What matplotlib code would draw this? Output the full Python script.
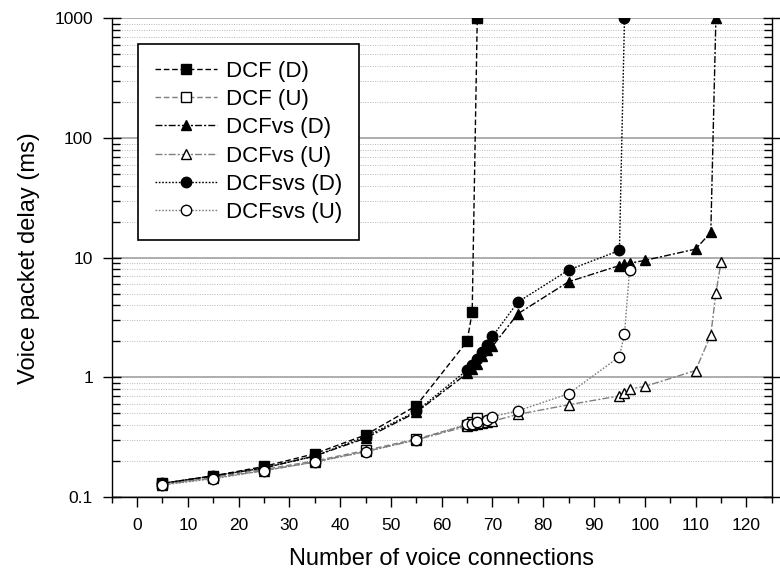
import numpy as np
import matplotlib
matplotlib.use("Agg")
import matplotlib.pyplot as plt
from matplotlib.ticker import LogLocator, NullFormatter, MultipleLocator, FixedLocator, FixedFormatter

plt.rcParams['font.family'] = ['Liberation Sans', 'DejaVu Sans']

# Data
low_x = [5, 15, 25, 35, 45, 55]

dcf_d_x = low_x + [65, 66, 67]
dcf_d_y = [0.13, 0.15, 0.18, 0.23, 0.33, 0.58, 2.0, 3.5, 1000]

dcf_u_x = low_x + [65, 66, 67]
dcf_u_y = [0.128, 0.146, 0.17, 0.2, 0.245, 0.305, 0.40, 0.427, 0.456]

dcfvs_d_x = low_x + [65, 66, 67, 68, 69, 70, 75, 85, 95, 96, 97, 100, 110, 113, 114]
dcfvs_d_y = [0.13, 0.15, 0.175, 0.22, 0.31, 0.51, 1.08, 1.18, 1.3, 1.5, 1.7, 1.82,
             3.4, 6.3, 8.6, 8.9, 9.0, 9.5, 11.8, 16.3, 1000]

dcfvs_u_x = low_x + [65, 66, 67, 68, 69, 70, 75, 85, 95, 96, 97, 100, 110, 113, 114, 115]
dcfvs_u_y = [0.127, 0.144, 0.166, 0.196, 0.24, 0.3, 0.39, 0.40, 0.41, 0.415, 0.42, 0.43,
             0.49, 0.59, 0.70, 0.74, 0.80, 0.84, 1.14, 2.27, 5.07, 9.14]

dcfsvs_d_x = low_x + [65, 66, 67, 68, 69, 70, 75, 85, 95, 96]
dcfsvs_d_y = [0.13, 0.15, 0.175, 0.22, 0.32, 0.52, 1.15, 1.28, 1.42, 1.62, 1.87, 2.2,
              4.26, 7.9, 11.5, 1000]

dcfsvs_u_x = low_x + [65, 66, 67, 69, 70, 75, 85, 95, 96, 97]
dcfsvs_u_y = [0.126, 0.142, 0.166, 0.196, 0.239, 0.3, 0.405, 0.41, 0.42, 0.44, 0.47,
              0.525, 0.73, 1.49, 2.31, 7.9]

gray = '#7f7f7f'
series = [
    ("DCF (D)", dcf_d_x, dcf_d_y, 's', 'k', (0, (4, 2)), 'black'),
    ("DCF (U)", dcf_u_x, dcf_u_y, 's', 'white', (0, (4, 2)), gray),
    ("DCFvs (D)", dcfvs_d_x, dcfvs_d_y, '^', 'k', (0, (5, 1.5, 1.5, 1.5)), 'black'),
    ("DCFvs (U)", dcfvs_u_x, dcfvs_u_y, '^', 'white', (0, (5, 1.5, 1.5, 1.5)), gray),
    ("DCFsvs (D)", dcfsvs_d_x, dcfsvs_d_y, 'o', 'k', (0, (1.2, 1.2)), 'black'),
    ("DCFsvs (U)", dcfsvs_u_x, dcfsvs_u_y, 'o', 'white', (0, (1.2, 1.2)), gray),
]

fig = plt.figure(figsize=(7.8, 5.76), dpi=100)
ax = fig.add_axes([0.1432, 0.1372, 0.8462, 0.8307])

for label, xs, ys, mk, fc, ls, lc in series:
    ax.plot(xs, ys, linestyle=ls, color=lc, linewidth=1.0, marker=mk,
            markersize=7.5, markerfacecolor=fc, markeredgecolor='black',
            markeredgewidth=1.0, label=label, zorder=3)

ax.set_yscale('log')
ax.set_ylim(0.1, 1000)
ax.set_xlim(-5, 125)

ax.xaxis.set_major_locator(MultipleLocator(10))
ax.xaxis.set_minor_locator(MultipleLocator(5))
ax.yaxis.set_major_locator(FixedLocator([0.1, 1, 10, 100, 1000]))
ax.yaxis.set_major_formatter(FixedFormatter(['0.1', '1', '10', '100', '1000']))
ax.yaxis.set_minor_locator(LogLocator(base=10, subs=np.arange(2, 10), numticks=20))
ax.yaxis.set_minor_formatter(NullFormatter())

ax.grid(True, which='major', axis='y', color='#a0a0a0', linestyle='-', linewidth=1.2, zorder=1)
ax.grid(True, which='minor', axis='y', color='#b8b8b8', linestyle=(0, (1, 1.5)), linewidth=0.7, zorder=1)

ax.tick_params(axis='x', which='major', direction='out', length=7, width=1, labelsize=12.5, pad=8, top=False)
ax.tick_params(axis='x', which='minor', direction='out', length=4, width=1, top=False)
ax.tick_params(axis='y', which='major', direction='inout', length=13, width=1, labelsize=12.5, pad=7, right=True)
ax.tick_params(axis='y', which='minor', direction='in', length=6, width=1, right=True)

for s in ax.spines.values():
    s.set_linewidth(1.0)
ax.spines['top'].set_visible(False)

ax.set_xlabel('Number of voice connections', fontsize=17, labelpad=11)
ax.set_ylabel('Voice packet delay (ms)', fontsize=17, labelpad=10)

leg = ax.legend(loc='upper left', bbox_to_anchor=(0.04, 0.947), borderaxespad=0, fontsize=16,
                frameon=True, fancybox=False, edgecolor='black', framealpha=1,
                handlelength=2.8, labelspacing=0.33, borderpad=0.75, handletextpad=0.4)
leg.get_frame().set_linewidth(1.2)

fig.savefig('out.png', dpi=100)
